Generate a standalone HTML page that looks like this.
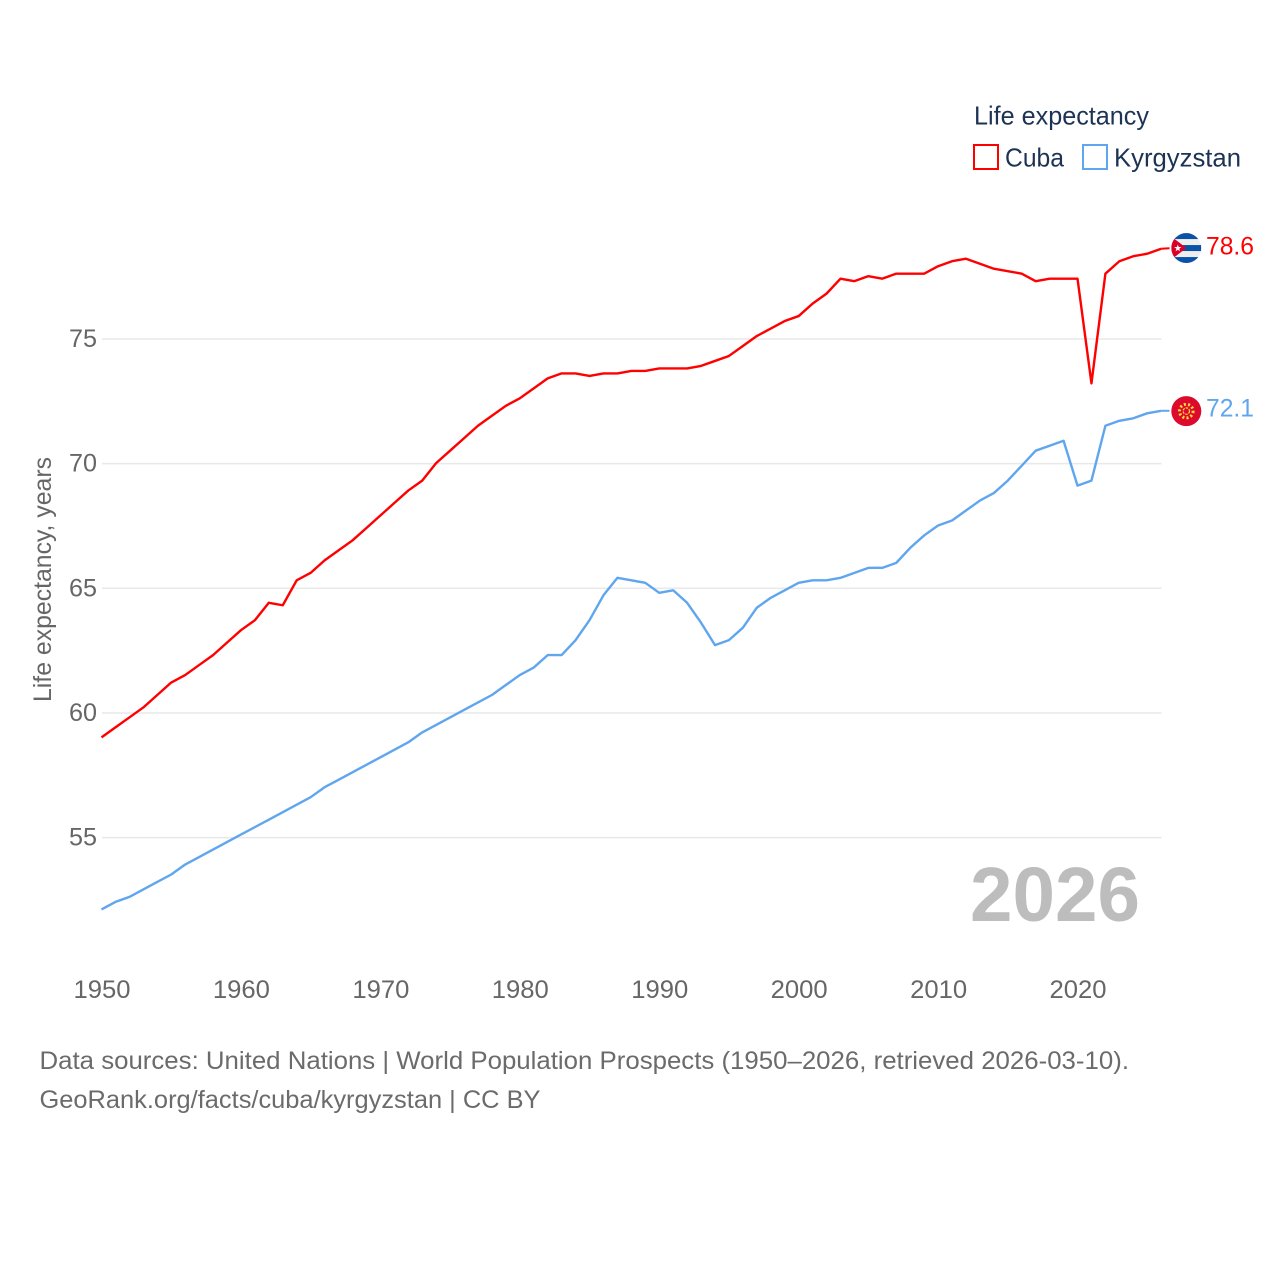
<!DOCTYPE html>
<html lang="en">
<head>
<meta charset="utf-8">
<title>Life expectancy: Cuba vs Kyrgyzstan</title>
<style>
html,body{margin:0;padding:0;background:#fff;width:1280px;height:1280px;overflow:hidden}
svg{display:block}
text{font-family:"Liberation Sans",sans-serif}
</style>
</head>
<body>
<svg id="chart" xmlns="http://www.w3.org/2000/svg" width="1280" height="1280" viewBox="0 0 1280 1280">
  <rect width="1280" height="1280" fill="#ffffff"/>
  <g id="grid"></g>
  <g id="yticks"></g>
  <g id="xticks"></g>
  <text transform="translate(51,702) rotate(-90)" font-size="25" fill="#666666" textLength="245" lengthAdjust="spacingAndGlyphs">Life expectancy, years</text>
  <text x="970" y="921" font-size="77" font-weight="700" fill="#bdbdbd" textLength="170" lengthAdjust="spacingAndGlyphs">2026</text>
  <g id="series" transform="translate(-0.5,-0.5)"></g>
  <g id="legend">
    <text x="974" y="124.5" font-size="26" fill="#1d3354" textLength="175" lengthAdjust="spacingAndGlyphs">Life expectancy</text>
    <g>
      <rect x="974" y="145" width="24" height="24" fill="none" stroke="#ff0000" stroke-width="2"/>
      <text x="1005" y="166.5" font-size="26" fill="#1d3354" textLength="59" lengthAdjust="spacingAndGlyphs">Cuba</text>
    </g>
    <g>
      <rect x="1083" y="145" width="24" height="24" fill="none" stroke="#5fa6ee" stroke-width="2"/>
      <text x="1114" y="166.5" font-size="26" fill="#1d3354" textLength="127" lengthAdjust="spacingAndGlyphs">Kyrgyzstan</text>
    </g>
  </g>
  <defs>
    <clipPath id="flag-clip"><circle cx="0" cy="0" r="15"/></clipPath>
  </defs>
  <g id="flag-cuba">
    <g clip-path="url(#flag-clip)">
      <rect x="-15" y="-15" width="30" height="30" fill="#eeeeee"/>
      <rect x="-15" y="-15" width="30" height="6" fill="#0a52a8"/>
      <rect x="-15" y="-3" width="30" height="6" fill="#0a52a8"/>
      <rect x="-15" y="9" width="30" height="6" fill="#0a52a8"/>
      <polygon points="-15,-11.5 0,0 -15,11.5" fill="#d80027"/>
      <polygon points="-8.5,-3.6 -7.6,-1 -4.9,-1 -7.1,0.7 -6.3,3.3 -8.5,1.7 -10.7,3.3 -9.9,0.7 -12.1,-1 -9.4,-1" fill="#ffffff"/>
    </g>
  </g>
  <g id="flag-kyrgyzstan">
    <circle r="15" fill="#dc0a2d"/>
    <circle r="6.8" fill="none" stroke="#ffd83a" stroke-width="3" stroke-dasharray="2 2.2"/>
    <circle r="3.2" fill="none" stroke="#ffd83a" stroke-width="1.2" stroke-dasharray="2.5 1"/>
  </g>
  <g id="endlabels"></g>
  <g>
    <text x="39.5" y="1069" font-size="25" fill="#6b6b6b" textLength="1089.5" lengthAdjust="spacingAndGlyphs">Data sources: United Nations | World Population Prospects (1950–2026, retrieved 2026-03-10).</text>
    <text x="39.5" y="1108" font-size="25" fill="#6b6b6b" textLength="501" lengthAdjust="spacingAndGlyphs">GeoRank.org/facts/cuba/kyrgyzstan | CC BY</text>
  </g>
</svg>
<script>
const years = [1950,1951,1952,1953,1954,1955,1956,1957,1958,1959,1960,1961,1962,1963,1964,1965,1966,1967,1968,1969,1970,1971,1972,1973,1974,1975,1976,1977,1978,1979,1980,1981,1982,1983,1984,1985,1986,1987,1988,1989,1990,1991,1992,1993,1994,1995,1996,1997,1998,1999,2000,2001,2002,2003,2004,2005,2006,2007,2008,2009,2010,2011,2012,2013,2014,2015,2016,2017,2018,2019,2020,2021,2022,2023,2024,2025,2026];
const cubaValues = [59.0,59.4,59.8,60.2,60.7,61.2,61.5,61.9,62.3,62.8,63.3,63.7,64.4,64.3,65.3,65.6,66.1,66.5,66.9,67.4,67.9,68.4,68.9,69.3,70.0,70.5,71.0,71.5,71.9,72.3,72.6,73.0,73.4,73.6,73.6,73.5,73.6,73.6,73.7,73.7,73.8,73.8,73.8,73.9,74.1,74.3,74.7,75.1,75.4,75.7,75.9,76.4,76.8,77.4,77.3,77.5,77.4,77.6,77.6,77.6,77.9,78.1,78.2,78.0,77.8,77.7,77.6,77.3,77.4,77.4,77.4,73.2,77.6,78.1,78.3,78.4,78.6];
const kyrgyzstanValues = [52.1,52.4,52.6,52.9,53.2,53.5,53.9,54.2,54.5,54.8,55.1,55.4,55.7,56.0,56.3,56.6,57.0,57.3,57.6,57.9,58.2,58.5,58.8,59.2,59.5,59.8,60.1,60.4,60.7,61.1,61.5,61.8,62.3,62.3,62.9,63.7,64.7,65.4,65.3,65.2,64.8,64.9,64.4,63.6,62.7,62.9,63.4,64.2,64.6,64.9,65.2,65.3,65.3,65.4,65.6,65.8,65.8,66.0,66.6,67.1,67.5,67.7,68.1,68.5,68.8,69.3,69.9,70.5,70.7,70.9,69.1,69.3,71.5,71.7,71.8,72.0,72.1];
const yTickValues = [55,60,65,70,75];
const xTickValues = [1950,1960,1970,1980,1990,2000,2010,2020];

const NS = 'http://www.w3.org/2000/svg';
function xScale(year){ return 102 + (year - 1950) * 13.943; }
function yScale(value){ return 339 + (75 - value) * 24.93; }
function make(tag, attrs, parent){
  const el = document.createElementNS(NS, tag);
  for (const k in attrs) el.setAttribute(k, attrs[k]);
  parent.appendChild(el);
  return el;
}

const gridGroup = document.getElementById('grid');
const yTickGroup = document.getElementById('yticks');
yTickValues.forEach(function(v){
  const gridLine = make('line', {x1:102, x2:1161.5, y1:yScale(v), y2:yScale(v), stroke:'#e9e9e9', 'stroke-width':1.5}, gridGroup);
  
  
  const tick = make('text', {x:97, y:yScale(v) + 8, 'text-anchor':'end', 'font-size':25, fill:'#666666', textLength:28, lengthAdjust:'spacingAndGlyphs'}, yTickGroup);
  tick.textContent = String(v);
  
  
});

const xTickGroup = document.getElementById('xticks');
xTickValues.forEach(function(y){
  const tick = make('text', {x:xScale(y), y:998, 'text-anchor':'middle', 'font-size':25, fill:'#666666', textLength:57, lengthAdjust:'spacingAndGlyphs'}, xTickGroup);
  tick.textContent = String(y);
  
  
});

function linePath(values){
  return values.map(function(v, i){
    return (i ? 'L' : 'M') + xScale(years[i]).toFixed(2) + ' ' + yScale(v).toFixed(2);
  }).join(' ');
}

const seriesGroup = document.getElementById('series');
const labelGroup = document.getElementById('endlabels');

const cubaLine = make('path', {d:linePath(cubaValues), fill:'none', stroke:'#ff0000', 'stroke-width':2.4, 'stroke-linejoin':'round'}, seriesGroup);


const kyrgyzLine = make('path', {d:linePath(kyrgyzstanValues), fill:'none', stroke:'#5fa6ee', 'stroke-width':2.4, 'stroke-linejoin':'round'}, seriesGroup);



const cubaEnd = cubaValues[cubaValues.length - 1];
const kyrgyzEnd = kyrgyzstanValues[kyrgyzstanValues.length - 1];
const endX = xScale(years[years.length - 1]);

const cubaConnector = make('line', {x1:endX, x2:1170, y1:yScale(cubaEnd), y2:yScale(cubaEnd) - 0.5, stroke:'#ff0000', 'stroke-width':2}, seriesGroup);


const kyrgyzConnector = make('line', {x1:endX, x2:1170, y1:yScale(kyrgyzEnd), y2:yScale(kyrgyzEnd), stroke:'#5fa6ee', 'stroke-width':2}, seriesGroup);



document.getElementById('flag-cuba').setAttribute('transform', 'translate(1186.3,' + (yScale(cubaEnd) - 1.2) + ')');
document.getElementById('flag-kyrgyzstan').setAttribute('transform', 'translate(1186.3,' + (yScale(kyrgyzEnd) - 0.2) + ')');

const cubaLabel = make('text', {x:1206, y:yScale(cubaEnd) + 5, 'font-size':25, fill:'#ff0000', textLength:48, lengthAdjust:'spacingAndGlyphs'}, labelGroup);
cubaLabel.textContent = cubaEnd.toFixed(1);


const kyrgyzLabel = make('text', {x:1206, y:yScale(kyrgyzEnd) + 5, 'font-size':25, fill:'#5fa6ee', textLength:48, lengthAdjust:'spacingAndGlyphs'}, labelGroup);
kyrgyzLabel.textContent = kyrgyzEnd.toFixed(1);


</script>
</body>
</html>
